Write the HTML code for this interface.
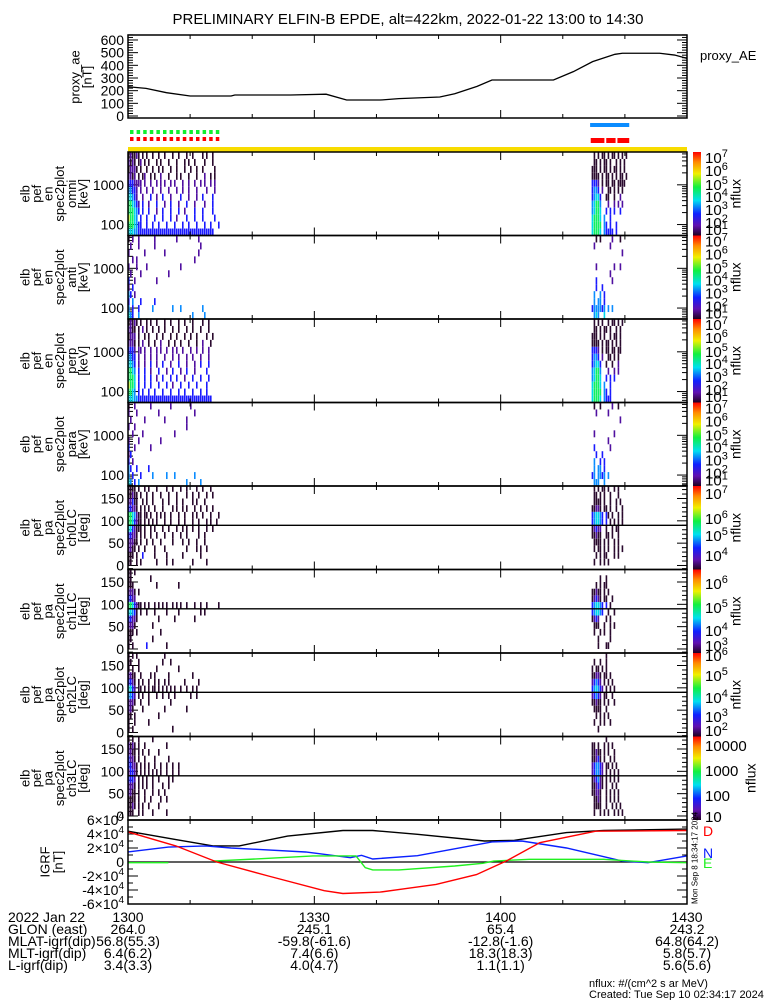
<!DOCTYPE html>
<html><head><meta charset="utf-8"><style>
html,body{margin:0;padding:0;background:#fff;}
svg{display:block;font-family:"Liberation Sans",sans-serif;}
</style></head><body>
<svg id="c" width="775" height="1000" viewBox="0 0 775 1000">
<defs>
<linearGradient id="cb" x1="0" y1="0" x2="0" y2="1">
<stop offset="0" stop-color="#ff0000"/><stop offset="0.12" stop-color="#ff8a00"/><stop offset="0.26" stop-color="#f0f000"/><stop offset="0.42" stop-color="#10f040"/><stop offset="0.58" stop-color="#00e0f0"/><stop offset="0.74" stop-color="#1020ff"/><stop offset="0.88" stop-color="#6010b0"/><stop offset="1" stop-color="#200020"/>
</linearGradient>
</defs>
<text x="408" y="24" font-size="15" text-anchor="middle">PRELIMINARY ELFIN-B EPDE, alt=422km, 2022-01-22 13:00 to 14:30</text>
<text x="700" y="60" font-size="13">proxy_AE</text>
<g id="g"></g>
<text font-size="11" x="589" y="987">nflux: #/(cm^2 s ar MeV)</text>
<text font-size="11" x="589" y="998">Created: Tue Sep 10 02:34:17 2024</text>
</svg>
<script>
// ---- data ----
const aeTimes=[0,2.9,6.2,10,16.6,17.2,26.2,31.9,35.2,40.6,43.6,50.2,52.6,56.2,58.6,68.5,71.7,74.8,78.4,79.6,85.6,88,90];
const aeValues=[231,218,184,158,158,166,166,172,126,126,137,150,176,234,284,284,350,429,487,495,495,481,455];
const aeTicks=[0,100,200,300,400,500,600];
const timeTickLabels=["1300","1330","1400","1430"];
const timeTickMinutes=[0,30,60,90];
const glonValues=["264.0","245.1","65.4","243.2"];
const mlatValues=["56.8(55.3)","-59.8(-61.6)","-12.8(-1.6)","64.8(64.2)"];
const mltValues=["6.4(6.2)","7.4(6.6)","18.3(18.3)","5.8(5.7)"];
const lValues=["3.4(3.3)","4.0(4.7)","1.1(1.1)","5.6(5.6)"];
const bdTimes=[0,7.7,13.7,17.9,25.7,34.6,39.4,46.6,57.4,62.2,70.6,76.6,90];
const bdValues=[4.4,3.2,2.3,2.3,3.7,4.5,4.5,3.96,3.0,3.1,4.2,4.5,4.7];
const brTimes=[0,7.7,14.3,22.6,31.6,34.6,40.6,49.6,56.1,60.9,66.3,75.3,90];
const brValues=[4.3,2.3,0,-2.0,-4.1,-4.5,-4.3,-3.2,-1.8,0.14,2.76,4.4,4.5];
const bnTimes=[0,6.5,12.5,16.6,28.6,35.8,37.6,39.4,46.6,58.6,63.4,70.6,79.6,83.7,90];
const bnValues=[1.43,2.14,2.3,2.0,1.43,0.62,0.95,0.43,0.9,2.86,3.0,2.0,0.14,-0.1,0.86];
const beTimes=[0,6.5,null,13.7,22.6,29.8,36.7,38.2,39.4,43.6,52.6,57.1,58.9,64.6,76.6,83.7,90];
const beValues=[-0.1,-0.1,null,0.14,0.52,0.86,0.86,-0.81,-1.14,-1.14,-0.57,-0.19,0.14,0.38,0.38,0,-0.1];
const greenSquares=[0,1,2,3,4,5,6,7,8,9,10,11,12,13];
const blueBar=[74.4,80.7];
const redBars=[[74.5,76.7],[77,78.5],[78.8,80.7]];
const clusterStartA=0, clusterStartB=74, colMinutes=0.322;
const omniA=["121121.1.1..1..1..1...1..1...1..1....1.1..1....","2121.12.1.1...1.1...1...1...1.1..1....1...1....","12221.1..1..1..1.1...1..1...1..1..1..1.....1...","2212.1.12..1.1..2...1...1.1...1...1...2..1.1...","3332222.2..2..2.2.2..2.2...2..2..2..2.2..2.2...","44332.2..2..2...2...2...2..2..2...2....2...2...","55432..2...3..2..3...2....3...2...2..3....3....","665432.3..2...3...2..3...2...3...2....2...3....","666543.3..3...2..3...3...3..2....3...3....3....","76654.3..3...3...3...3..2....3...3...3.....3...","6665433..3..3..3...3...3...3..3...3...3..3...3.","5554433333333333333333333333333333333333333...."];
const omniB=["...1.1.11.1.11.1.1.1.","...11.1.11.1..1.1.1..","..111.1.11.1.11.1.1..","..1111.1.11.1.1.11.1.","..3332.1.11.11.1111..","..3443.2..11.1.1.1...","..34553..11..1..2....","..45664...2..2.2.2...","..45665..3.3.3..3....","..56665.4..3.........","..56666.43.3..3......","..56665.43333.3......"];
const antiA=["1.2..2.......2..........2..........2.........",".2...2.......2......................2........","2.......2.........2................2.........","..2.2............................2...........","2...2....2................2.................",".2....2.............2........................","3..2..........2..............................","2.3..........................................","43.2.........................................","3.4...3......3...............................","4.3..3......4.........4...4..........4........","543..4..........................4.....4....."];
const antiB=["....1.1.....2...1.....","...2.......2.........",".................2...",".....................","....2........2..2....","...........2.........","....3.......2........","....3..3..........","...4..4.3............","...4.44.3............","..3444434.4.4.......","...454..5............"];
const perpA=["12121.1..1.1..1...1..1...1..1...1....1..1.....","2211.1.2.1..1..1..1...1..1...1..1...1...1.....","1222.1..1.1...1..1...1..1...1..1..1....1..1...","2221.1.2..1..1..2...1..1..1...1...1..2...1....","3332.22.2..2..2.2..2..2.2..2...2..2..2..2.....","4433.2..2..2..2...2...2..2...2..2...2...2.....","5543.2..2..3..2..3...2...3...2...2..3...3.....","6654.3..3..2...3...2..3...2..3...2.....3......","6665.3..3..3..2..3...3..3...2...3...3...3.....","7665.3..3..3...3...3..2...3...3...3....3......","6654.3.3..3..3...3...3...3..3...3...3..3......","555443333333333333333333333333333333333333...."];
const perpB=["...1.1.1..1.11.1.1...","...11.1.11.1..1.1....","..111.1.1..1.11.1....","..1111.1.11.1.1.1....","..3332.1.11.11.11....","..3443.2..11.1.1.....","..34553..1..1..2.....","..45664...2..2.2.....","..45665..3.3.3.......","..56665.4..3.........","..56666.43.3.........","..56665.4333.........."];
const paraA=["1..2.......2.........2.........2..........","2...2..........2.................2.......",".2......2.........2..........2...........","2..2.........................2...........","..2....2...............2.................","2....2..........2........................","3..2.......2.............................","23..........................................","3.2.........................................","43..3.....3................................","4.3...3.....4......4...4.........4.........","54.3.4.......................4......4....."];
const paraB=["...1..1.....2..1.....","....2.....2..........","................2....",".....................","...2.........2.......","..........2..........","...3.......2.........","....3..3.............","...4..3.3............","...4.44.3............","..34.4434.4.........","...444..4............"];
const ch0A=["1111.1..1.1...1....1..1...1..1....1..1...1....","11211.1..1..1...1...1...1....1..1..1...1..1...","22311..1.1..1....1..1...1..1....1.1...1.......","33221.1.1.1..1...1....1.1..1.1...1..1..1..1...","6654211.11.1..1.1.1..1...1..1...1.1..1...1...1","6653211.1.1.1.1...1..1...1..1...1..1...1.1..1.","5532111.1..1.1...1..1...1..1.1..1..1...1..1...","33221.1.1..1..1...1...1...1..1.....1..1.......","22211.1..1..1...1.....1....1..1...1...1.......","2211.1..1....1....1..........1....1.1..1......","111.1..3.....1.....1.......1........1........","11..1.1.......1....1..1.........1......1......"];
const ch0B=["...1.1.11.1..1.1.....","...11.1.1..1...1.....","...1111.1..1..1.1....","..11221.11.1..1..1...","..345543.31.1..1.1...","..345543.3.1.1.1.1...","..12322..1..1.11.....","..11211..11.1..1.....","...1111.1.1..1.1.....","...1.11.1.1..1.1.1...","....1.1.11...1.1.....","...1..1.1.1.........."];
const ch1A=["11.1..........................................","11.........1...................................","111...........1..........1......................","2221.1...........................................","3322.........................................","6653211.1.1..1.1.1.1..1.1.1..1...1..1..1.....1","55431.1..1...1.....1.....1..........1.1......","33221..........1.......1.........1..........","2221........1........................","111.1...........1..............","11..........1...............","1.1......3.........1.........."];
const ch1B=["....................","......1..1...........","....1.1.11..........","..11211.1.1..........","..12321.11..1........","..345543.3.1........","..345543..1..1.......","..1232...1.1........","...111..1..1.1......","...1..1.1..1.........",".....1.....1.........",".....1...11.........."];
const ch2A=["1.1.1.............1......","11...1...........1...1..........","1.1..1........1..........1.......","2211..1....1.1......1...........1...","3321.1.1..1..1.1..1.1.......1......1","5532.11.1.1.11.1.1.1.1.1..1..1..1.1.","4432.1.1..1...1..1..1..1.......1..1..","2221..1...1..........1..............","221....1..........1..........1......","11.1...........1.............","1..1......1......................","1.1...................1.........."];
const ch2B=[".........1..........","...1..1..1...........","..1.11.1.1...........","..11221.11.1.........","..23432.1.1.1........","..345432.1.1.1.......","..23432.11..1........","..11211.1.1..1.......","...1111..1...........","....1.1.1.1..........","...1..1.1..1.........",".....1.............."];
const ch3A=["1.1..1......1.........","2121.1..1..........1......","2211.1.1..1....1..........","3221.1..1....1......1......","33221.1.1.1..1..1..1..1..1..","23321.1.1.1.1.1.1..1..1..1..","3332.1.1.1..1..1....1.1...","2221.1.1.1..1....1..1......","2211.1..1...1..1..1......","1111.1..1..1....1..1......","1121.1.1..1....1..........","111..1.1....1......1....."];
const ch3B=[".........1..........","..11.1..1.1.1........","..11211.1.1..1.......","..11231.1..1.1.......","..234432.11.1.1......","..234432.1.1.1.1.....","..123421.1.1.1.1......","..112321.1..1.1.......","..11221..1.1.1.1......","...1121..1.1.1.1.....","...1111..1..1.1.1....","...1..1.1.1..1.1.1..."];
const panelNames=["omni","anti","perp","para","ch0LC","ch1LC","ch2LC","ch3LC"];
const energyTickLabels=["1000","100"];
const energyTickValues=[1000,100];
const pitchTickLabels=["0","50","100","150"];
const pitchTickValues=[0,50,100,150];
const cbLabels=[[["7",157],["6",170],["5",184],["4",196],["3",209],["2",222],["1",229]],null,null,null,
 [["7",493],["6",518],["5",535],["4",555]],[["6",583],["5",607],["4",630],["3",645]],[["6",655],["5",675],["4",697],["3",716],["2",730]],
 [["10000",745],["1000",770],["100",795],["10",816]]];
const igrfTickLabels=["6","4","2","0","-2","-4","-6"];
const igrfTickValues=[6,4,2,0,-2,-4,-6];

// ---- helpers ----
const NS="http://www.w3.org/2000/svg";
const G=document.getElementById('g');
const X0=128,X1=687;
function xs(t){return X0+t/90*(X1-X0);}
function mk(tag,attrs,parent){const e=document.createElementNS(NS,tag);for(const k in attrs)e.setAttribute(k,attrs[k]);(parent||G).appendChild(e);return e;}
const LEVEL=["","#2a0a2e","#5010a0","#1a1aff","#0a8cff","#00d8e8","#10f060","#a0f000"];

function timeTicks(top,bot,name){
  for(let m=0;m<=90;m+=10){
    const L=(m%30===0)?8:4;const x=xs(m);
    const t=mk('line',{x1:x,y1:top,x2:x,y2:top+L,stroke:'#000','stroke-width':1});
    
    
    const b=mk('line',{x1:x,y1:bot,x2:x,y2:bot-L,stroke:'#000','stroke-width':1});
    
    
  }
}
function frame(top,bot,name){
  const r=mk('rect',{x:X0,y:top,width:X1-X0,height:bot-top,fill:'none',stroke:'#000','stroke-width':1.5});
  
  
}
function yticks(y,L){
  mk('line',{x1:X0,y1:y,x2:X0+L,y2:y,stroke:'#000','stroke-width':1});
  mk('line',{x1:X1,y1:y,x2:X1-L,y2:y,stroke:'#000','stroke-width':1});
}
function rotLabel(lines,cx,cy,x0,dx,name){
  const g=mk('g',{});
  
  
  lines.forEach((s,i)=>{const x=x0+i*dx;mk('text',{x:x,y:cy,'font-size':13,'text-anchor':'middle',transform:`rotate(-90 ${x} ${cy})`,'dominant-baseline':'middle'},g).textContent=s;});
}

// ---- proxy AE panel ----
const aeTop=35,aeBot=118;
function yAE(v){return 116-v*0.1267;}
for(let v=0;v<=640;v+=20){yticks(yAE(v),v%100===0?10:5);}
aeTicks.forEach(v=>{const t=mk('text',{x:124,y:yAE(v)+5,'font-size':14,'text-anchor':'end'});t.textContent=v;
 
 });
timeTicks(aeTop,aeBot,'ae');
frame(aeTop,aeBot,'proxy-ae-panel');
{const p=mk('polyline',{points:aeTimes.map((t,i)=>xs(t)+','+yAE(aeValues[i])).join(' '),fill:'none',stroke:'#000','stroke-width':1.3});
 
 }
rotLabel(["proxy_ae","[nT]"],0,77,76,12,'proxy-ae-y-title');

// ---- bars ----
greenSquares.forEach(i=>{const x=130+i*6.6;
 const a=mk('rect',{x:x,y:130,width:3.5,height:4,fill:'#10f030'});
 
 
 const b=mk('rect',{x:x,y:137,width:3.5,height:4,fill:'#ff0000'});
 
 });
{const b=mk('rect',{x:xs(blueBar[0]),y:123,width:xs(blueBar[1])-xs(blueBar[0]),height:4,fill:'#0a8cff'});
 
 }
redBars.forEach(r=>{const b=mk('rect',{x:xs(r[0]),y:138,width:xs(r[1])-xs(r[0]),height:5,fill:'#ff0000'});
 
 });
{const b=mk('rect',{x:X0,y:147,width:X1-X0,height:5,fill:'#f8dc00'});
 
 }

// ---- spectrogram panels ----
const specA=[omniA,antiA,perpA,paraA,ch0A,ch1A,ch2A,ch3A];
const specB=[omniB,antiB,perpB,paraB,ch0B,ch1B,ch2B,ch3B];
const PH=83.5,P0=152;
const colW=xs(colMinutes)-xs(0);
for(let p=0;p<8;p++){
  const top=P0+p*PH,bot=top+PH;
  const isE=p<4;
  const rowsA=specA[p],rowsB=specB[p];
  const n=rowsA.length;
  let yBin;
  if(isE){const lo=Math.log10(53),hi=Math.log10(6700);
    const yE=e=>bot-(Math.log10(e)-lo)/(hi-lo)*PH;
    yBin=i=>{const eTop=Math.pow(10,hi-(hi-lo)*i/n);return yE(eTop);};
    for(let d=10;d<=1000;d*=10)for(let k=1;k<10;k++){const e=d*k;if(e<53||e>6700)continue;yticks(yE(e),k===1?10:5);}
    energyTickValues.forEach((v,i)=>{const t=mk('text',{x:124,y:yE(v)+5,'font-size':14,'text-anchor':'end'});t.textContent=energyTickLabels[i];
      
      });
  } else {
    const yP=d=>bot-(d+9)/187*PH;
    yBin=i=>yP(180-180*i/n);
    for(let d=0;d<=180;d+=10){yticks(yP(d),d%50===0?10:5);}
    pitchTickValues.forEach((v,i)=>{const t=mk('text',{x:124,y:yP(v)+5,'font-size':14,'text-anchor':'end'});t.textContent=pitchTickLabels[i];
      
      });
  }
  const grp=mk('g',{});
  
  
  [[rowsA,clusterStartA],[rowsB,clusterStartB]].forEach(([rows,t0])=>{
    rows.forEach((s,r)=>{for(let c=0;c<s.length;c++){const ch=s[c];if(ch==='.')continue;const lv=+ch;
      const y1=Math.max(top,yBin(r)),y2=Math.min(bot,yBin(r+1));
      const cell=mk('rect',{x:xs(t0+c*colMinutes),y:y1,width:colW*0.8,height:y2-y1,fill:LEVEL[lv]},grp);
      
      
    }});
  });
  if(!isE){const yP=d=>bot-(d+9)/187*PH;const l=mk('line',{x1:X0,y1:yP(90),x2:X1,y2:yP(90),stroke:'#000','stroke-width':1.3});
    
    }
  timeTicks(top,bot,panelNames[p]);
  frame(top,bot,'panel-'+panelNames[p]);
  rotLabel(["elb","pef",isE?"en":"pa","spec2plot",panelNames[p],isE?"[keV]":"[deg]"],0,top+PH/2,26,11.6,'y-title-'+panelNames[p]);
  const cb=mk('rect',{x:693,y:top,width:8,height:PH,fill:'url(#cb)'});
  
  
  const labs=cbLabels[p]||cbLabels[0].map(([k,y])=>[k,y+(top-P0)]);
  labs.forEach(([k,y])=>{const t=mk('text',{x:705,y:y+6,'font-size':15});
    if(p===7){t.textContent=k;}else{t.textContent='10';const s=mk('tspan',{dy:-6,'font-size':11},t);s.textContent=k;}
    
    });
  const nx=p===7?752:737;
  const nf=mk('text',{x:nx,y:top+PH/2,'font-size':14,'text-anchor':'middle',transform:`rotate(-90 ${nx} ${top+PH/2})`,'dominant-baseline':'middle'});
  nf.textContent='nflux';
  
  
}

// ---- IGRF panel ----
const iTop=820,iBot=904;
function yI(v){return 862-v*7;}
for(let v=-6;v<=6;v+=1){yticks(yI(v),v%2===0?10:5);}
igrfTickValues.forEach((v,i)=>{const t=mk('text',{x:124,y:yI(v)+5,'font-size':14,'text-anchor':'end'});
  if(v===0){t.textContent='0';}else{t.textContent=igrfTickLabels[i]+'\u00d710';const s=mk('tspan',{dy:-6,'font-size':10},t);s.textContent='4';}
  
  });
{const l=mk('line',{x1:X0,y1:yI(0),x2:X1,y2:yI(0),stroke:'#000','stroke-width':1.3});
 
 }
function series(ts,vs,col,name){
  let segs=[],cur=[];
  ts.forEach((t,i)=>{if(t===null){if(cur.length)segs.push(cur);cur=[];}else cur.push(xs(t)+','+yI(vs[i]));});
  if(cur.length)segs.push(cur);
  segs.forEach(sg=>{const p=mk('polyline',{points:sg.join(' '),fill:'none',stroke:col,'stroke-width':1.4});
    
    });
}
series(bdTimes,bdValues,'#000','igrf-total-line');
series(bnTimes,bnValues,'#0a20ff','igrf-n-line');
series(beTimes,beValues,'#20f020','igrf-e-line');
series(brTimes,brValues,'#ff0000','igrf-d-line');
timeTicks(iTop,iBot,'igrf');
frame(iTop,iBot,'igrf-panel');
rotLabel(["IGRF","[nT]"],0,862,46,13,'igrf-y-title');
[["D","#ff0000",836],["N","#0a20ff",858],["E","#20f020",868]].forEach(([s,c,y])=>{const t=mk('text',{x:703,y:y,'font-size':14,fill:c});t.textContent=s;
  
  });
{const t=mk('text',{x:692,y:904,'font-size':8,transform:'rotate(-90 692 904)','dominant-baseline':'hanging'});t.textContent='Mon Sep  8 18:34:17 2024';
 
 }

// ---- bottom annotations ----
const rowNames=["2022 Jan 22","GLON (east)","MLAT-igrf(dip)","MLT-igrf(dip)","L-igrf(dip)"];
const rowVals=[timeTickLabels,glonValues,mlatValues,mltValues,lValues];
rowNames.forEach((n,r)=>{const y=922+r*12;
  const t=mk('text',{x:8,y:y,'font-size':14});t.textContent=n;
  
  
  rowVals[r].forEach((v,i)=>{const tt=mk('text',{x:xs(timeTickMinutes[i]),y:y,'font-size':14,'text-anchor':'middle'});tt.textContent=v;
    
    });
});
</script>
</body></html>
